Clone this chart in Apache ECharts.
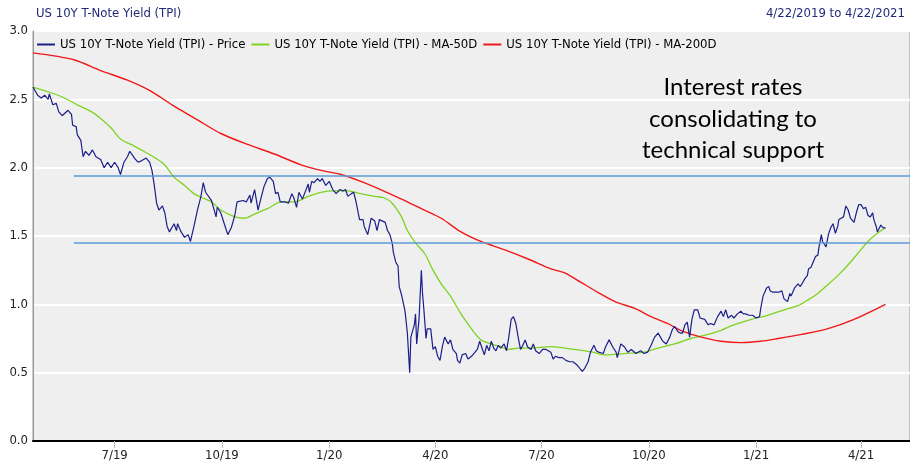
<!DOCTYPE html>
<html>
<head>
<meta charset="utf-8">
<title>US 10Y T-Note Yield (TPI)</title>
<script src="https://cdn.jsdelivr.net/npm/echarts@6/dist/echarts.min.js"></script>
<style>
    html, body { margin: 0; padding: 0; background: #fff; }
    #chart { width: 910px; height: 471px; }
</style>
</head>
<body>
<div id="chart"></div>
<script>
// day offsets are counted from startDate
var startDate = '2019-04-22';
var endDay = 752;
var narrow = "'Liberation Sans Narrow', 'DejaVu Sans Condensed', 'Roboto Condensed', sans-serif";

var tickDates = ['2019-07-01', '2019-10-01', '2020-01-01', '2020-04-01', '2020-07-01', '2020-10-01', '2021-01-01', '2021-04-01'];
var tickLabels = ['7/19', '10/19', '1/20', '4/20', '7/20', '10/20', '1/21', '4/21'];

var supportLevels = [1.94, 1.45];
var supportStartDay = 35;

// [day, yield]
var price = [
    [0,2.59],[4,2.53],[7,2.51],[10,2.53],[13,2.50],[14,2.54],[17,2.46],[20,2.47],[22,2.41],[25,2.38],
    [30,2.42],[33,2.39],[34,2.31],[37,2.30],[38,2.24],[41,2.20],[43,2.08],[45,2.12],[48,2.09],[51,2.13],
    [54,2.08],[58,2.06],[61,2.00],[64,2.04],[67,2.00],[70,2.04],[73,2.00],[75,1.95],[78,2.04],[81,2.08],
    [83,2.12],[87,2.07],[90,2.04],[93,2.05],[97,2.07],[100,2.04],[102,1.98],[104,1.87],[106,1.74],[108,1.69],
    [111,1.72],[113,1.67],[115,1.57],[117,1.53],[121,1.59],[123,1.54],[124,1.59],[127,1.53],[130,1.49],[133,1.51],
    [135,1.46],[138,1.57],[141,1.69],[144,1.79],[146,1.89],[148,1.82],[153,1.76],[155,1.70],[157,1.64],[158,1.71],
    [161,1.67],[164,1.59],[167,1.51],[170,1.56],[173,1.65],[175,1.75],[180,1.76],[183,1.75],[186,1.80],[187,1.74],
    [190,1.84],[193,1.69],[195,1.76],[198,1.86],[201,1.92],[203,1.93],[206,1.90],[208,1.81],[210,1.82],[212,1.75],
    [216,1.75],[219,1.74],[222,1.81],[224,1.77],[226,1.71],[228,1.82],[231,1.77],[236,1.88],[237,1.82],[239,1.90],
    [241,1.89],[244,1.92],[246,1.90],[248,1.92],[251,1.87],[254,1.90],[257,1.84],[260,1.81],[263,1.84],[266,1.83],
    [268,1.84],[270,1.79],[273,1.81],[275,1.82],[277,1.75],[280,1.62],[283,1.62],[284,1.57],[287,1.51],[290,1.63],
    [293,1.61],[295,1.54],[297,1.62],[302,1.60],[304,1.54],[306,1.51],[308,1.45],[309,1.38],[311,1.31],[313,1.28],
    [314,1.13],[316,1.07],[318,0.99],[319,0.95],[321,0.79],[323,0.50],[324,0.76],[326,0.82],[327,0.85],[328,0.93],
    [329,0.71],[331,0.89],[333,1.25],[334,1.08],[335,0.98],[337,0.75],[338,0.82],[341,0.82],[343,0.67],[345,0.69],
    [347,0.62],[349,0.59],[351,0.69],[353,0.76],[356,0.71],[358,0.74],[360,0.67],[363,0.64],[364,0.59],[366,0.57],
    [368,0.63],[371,0.64],[373,0.60],[376,0.62],[378,0.64],[381,0.67],[383,0.73],[385,0.68],[387,0.63],[389,0.70],
    [391,0.66],[393,0.73],[395,0.68],[397,0.66],[399,0.70],[401,0.68],[404,0.71],[406,0.66],[408,0.76],[410,0.89],
    [412,0.91],[414,0.86],[416,0.76],[418,0.67],[420,0.70],[422,0.74],[424,0.69],[427,0.67],[429,0.71],[431,0.66],
    [434,0.64],[437,0.67],[440,0.67],[444,0.65],[446,0.60],[448,0.62],[451,0.61],[454,0.61],[457,0.59],[460,0.58],
    [463,0.58],[466,0.56],[468,0.54],[471,0.51],[473,0.53],[476,0.58],[478,0.65],[481,0.70],[483,0.66],[485,0.65],
    [489,0.64],[491,0.69],[494,0.74],[497,0.69],[500,0.65],[501,0.61],[504,0.71],[507,0.69],[510,0.65],[513,0.67],
    [517,0.64],[521,0.66],[524,0.64],[527,0.65],[530,0.70],[533,0.76],[536,0.79],[538,0.76],[540,0.73],[543,0.71],
    [546,0.76],[548,0.81],[550,0.84],[553,0.80],[555,0.79],[557,0.79],[559,0.85],[561,0.87],[563,0.76],[565,0.89],
    [567,0.96],[570,0.96],[572,0.90],[576,0.89],[579,0.85],[581,0.86],[584,0.85],[587,0.91],[590,0.95],[592,0.91],
    [594,0.96],[596,0.90],[599,0.92],[601,0.90],[604,0.93],[607,0.95],[609,0.93],[611,0.93],[614,0.92],[617,0.92],
    [620,0.90],[623,0.91],[624,0.97],[626,1.06],[629,1.12],[631,1.13],[632,1.10],[634,1.09],[637,1.09],[640,1.09],
    [642,1.10],[644,1.04],[647,1.02],[649,1.08],[650,1.06],[653,1.12],[656,1.15],[658,1.13],[660,1.16],[662,1.19],
    [664,1.21],[665,1.26],[667,1.27],[669,1.31],[671,1.35],[673,1.36],[674,1.42],[676,1.51],[677,1.46],[678,1.45],
    [680,1.42],[682,1.51],[684,1.56],[686,1.59],[688,1.52],[690,1.57],[691,1.62],[693,1.63],[695,1.64],[697,1.72],
    [699,1.69],[701,1.63],[704,1.60],[706,1.67],[708,1.73],[710,1.73],[712,1.70],[714,1.71],[716,1.65],[718,1.64],
    [720,1.67],[721,1.62],[723,1.57],[724,1.53],[727,1.58],[729,1.56],[731,1.56]
];

var ma50 = [
    [0,2.59],[15,2.55],[27,2.51],[38,2.46],[50,2.41],[58,2.36],[67,2.29],[75,2.21],[84,2.17],[95,2.12],
    [105,2.07],[113,2.02],[121,1.93],[130,1.87],[138,1.81],[145,1.78],[153,1.75],[161,1.69],[173,1.64],[181,1.63],
    [190,1.66],[201,1.70],[213,1.75],[224,1.75],[236,1.79],[247,1.82],[258,1.83],[270,1.83],[281,1.81],[293,1.79],
    [301,1.78],[308,1.74],[316,1.64],[321,1.54],[328,1.45],[336,1.37],[343,1.25],[350,1.15],[358,1.06],[367,0.93],
    [376,0.82],[384,0.74],[393,0.71],[401,0.69],[408,0.67],[416,0.68],[427,0.68],[444,0.69],[464,0.67],[480,0.65],
    [490,0.63],[507,0.64],[524,0.65],[536,0.68],[550,0.71],[564,0.75],[579,0.78],[590,0.81],[601,0.85],[616,0.89],
    [630,0.92],[644,0.96],[656,0.99],[664,1.03],[673,1.08],[681,1.14],[690,1.21],[699,1.29],[707,1.37],[716,1.46],
    [724,1.52],[731,1.56]
];

var ma200 = [
    [0,2.84],[35,2.79],[58,2.71],[81,2.64],[101,2.56],[121,2.45],[141,2.35],[161,2.25],[184,2.17],[207,2.10],
    [230,2.02],[247,1.98],[264,1.95],[281,1.90],[298,1.84],[316,1.77],[333,1.70],[350,1.63],[367,1.53],[384,1.46],
    [404,1.40],[425,1.33],[444,1.26],[456,1.23],[470,1.16],[484,1.09],[499,1.02],[516,0.97],[530,0.91],[544,0.86],
    [558,0.80],[573,0.76],[590,0.73],[607,0.72],[624,0.73],[639,0.75],[659,0.78],[681,0.82],[704,0.89],[731,1.00]
];

function dayOf(s) {
    var p = s.split('-');
    var a = Date.UTC(+p[0], +p[1] - 1, +p[2]);
    var q = startDate.split('-');
    var b = Date.UTC(+q[0], +q[1] - 1, +q[2]);
    return Math.round((a - b) / 86400000);
}

var tickDays = tickDates.map(dayOf);

var myChart = echarts.init(document.getElementById('chart'));

var option = {
    backgroundColor: '#fff',
    animation: false,
    title: [{
        text: 'US 10Y T-Note Yield (TPI)',
        left: 31,
        top: 2,
        textStyle: {color: '#1f2a78', fontSize: 13, fontWeight: 'normal', fontFamily: narrow}
    }, {
        text: '4/22/2019 to 4/22/2021',
        right: 0,
        top: 2,
        textStyle: {color: '#1f2a78', fontSize: 13, fontWeight: 'normal', fontFamily: narrow}
    }],
    legend: {
        left: 32,
        top: 33,
        icon: 'rect',
        itemWidth: 18,
        itemHeight: 2,
        itemGap: 6,
        textStyle: {color: '#000', fontSize: 13, fontFamily: narrow},
        data: [
            'US 10Y T-Note Yield (TPI) - Price',
            'US 10Y T-Note Yield (TPI) - MA-50D',
            'US 10Y T-Note Yield (TPI) - MA-200D'
        ]
    },
    grid: {
        left: 33,
        right: 0,
        top: 31,
        bottom: 30,
        show: true,
        backgroundColor: '#efefef',
        borderColor: '#999',
        borderWidth: 1
    },
    xAxis: {
        type: 'value',
        min: 0,
        max: endDay,
        splitLine: {show: false},
        axisLine: {lineStyle: {color: '#000', width: 2}},
        axisTick: {
            show: true,
            length: 7,
            customValues: tickDays,
            lineStyle: {color: '#bbb'}
        },
        axisLabel: {
            margin: 8,
            color: '#222',
            fontSize: 13,
            fontFamily: narrow,
            customValues: tickDays,
            formatter: function (v) {
                var i = tickDays.indexOf(Math.round(v));
                return i >= 0 ? tickLabels[i] : '';
            }
        }
    },
    yAxis: {
        type: 'value',
        min: 0,
        max: 3,
        interval: 0.5,
        axisLine: {show: true, lineStyle: {color: '#999'}},
        axisTick: {show: false},
        splitLine: {lineStyle: {color: '#fff', width: 2}},
        axisLabel: {
            margin: 5,
            color: '#222',
            fontSize: 13,
            fontFamily: narrow,
            formatter: function (v) { return v.toFixed(1); }
        }
    },
    graphic: [{
        type: 'text',
        x: 733,
        y: 72,
        z: 10,
        style: {
            text: 'Interest rates\nconsolidating to\ntechnical support',
            textAlign: 'center',
            fill: '#000',
            font: '24px Lato, "Open Sans", sans-serif',
            lineHeight: 31.5
        }
    }],
    series: [{
        name: 'US 10Y T-Note Yield (TPI) - Price',
        type: 'line',
        data: price,
        showSymbol: false,
        symbol: 'none',
        lineStyle: {color: '#1b1f8a', width: 1.2},
        itemStyle: {color: '#1b1f8a'},
        z: 4,
        markLine: {
            silent: true,
            symbol: 'none',
            label: {show: false},
            lineStyle: {color: '#5b9bd5', width: 1.5, type: 'solid'},
            data: supportLevels.map(function (lv) {
                return [{coord: [supportStartDay, lv]}, {coord: [endDay, lv]}];
            })
        }
    }, {
        name: 'US 10Y T-Note Yield (TPI) - MA-50D',
        type: 'line',
        data: ma50,
        smooth: 0.3,
        showSymbol: false,
        symbol: 'none',
        lineStyle: {color: '#7ed321', width: 1.3},
        itemStyle: {color: '#7ed321'},
        z: 3
    }, {
        name: 'US 10Y T-Note Yield (TPI) - MA-200D',
        type: 'line',
        data: ma200,
        smooth: 0.3,
        showSymbol: false,
        symbol: 'none',
        lineStyle: {color: '#f01818', width: 1.4},
        itemStyle: {color: '#f01818'},
        z: 3
    }]
};

myChart.setOption(option);
</script>
</body>
</html>
